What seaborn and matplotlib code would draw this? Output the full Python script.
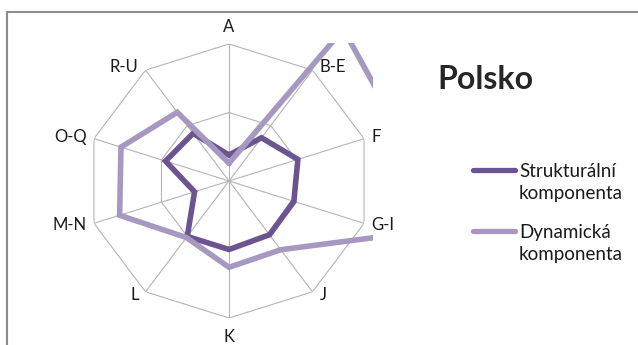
import numpy as np
import seaborn as sns
import matplotlib.pyplot as plt
from matplotlib.patches import Rectangle
from matplotlib.lines import Line2D

categories = ["A", "B-E", "F", "G-I", "J", "K", "L", "M-N", "O-Q", "R-U"]
strukturalni = [0.19, 0.39, 0.51, 0.48, 0.485, 0.50, 0.50, 0.255, 0.47, 0.43]
dynamicka = [0.13, 1.37, 1.25, 1.26, 0.62, 0.63, 0.51, 0.81, 0.80, 0.62]
rings = [0.5, 1.0]

title = "Polsko"
series_labels = ["Strukturální\nkomponenta", "Dynamická\nkomponenta"]
colors = ["#6b5490", "#a698c0"]

sns.set_style("white")
plt.rcParams["font.family"] = ["Lato", "DejaVu Sans"]

W, H = 638, 345
fig = plt.figure(figsize=(W / 100, H / 100), dpi=100)

# chart frame (cropped on the right and bottom)
fig.add_artist(Rectangle((7 / W, -0.2), 2.0, (H - 12) / H + 0.2, transform=fig.transFigure,
                         fill=False, edgecolor="#8c8c8c", linewidth=1.5))

cx, cy, rx, ry = 229, 181, 142, 137
ax = fig.add_axes([(cx - rx) / W, (H - cy - ry) / H, 2 * rx / W, 2 * ry / H], projection="polar")
ax.set_aspect("auto")
ax.set_theta_zero_location("N")
ax.set_theta_direction(-1)
ax.set_ylim(0, 1.0)
ax.grid(False)
ax.set_xticks([])
ax.set_yticks([])
ax.spines["polar"].set_visible(False)
ax.patch.set_alpha(0)

n = len(categories)
theta = np.linspace(0, 2 * np.pi, n, endpoint=False)
closed = np.append(theta, theta[0])

for r in rings:
    ax.plot(closed, [r] * (n + 1), color="#b4b4b4", lw=0.8, zorder=1)
for t in theta:
    ax.plot([t, t], [0, rings[-1]], color="#b4b4b4", lw=0.8, zorder=1)

# plot area is a rectangle: lines beyond the outer ring get clipped there
plot_area = Rectangle((85 / W, 26 / H), 288 / W, 276 / H, transform=fig.transFigure)

for vals, col in zip([strukturalni, dynamicka], colors):
    line, = ax.plot(closed, vals + vals[:1], color=col, lw=4.0, solid_joinstyle="miter", zorder=3)
    line.set_clip_path(plot_area)

for t, lab in zip(theta, categories):
    s, c = np.sin(t), np.cos(t)
    if abs(s) < 0.1:
        ha = "center"
        off = (0, 17 if c > 0 else -19)
    else:
        ha = "left" if s > 0 else "right"
        off = (7 * np.sign(s), 4 * c)
    ax.annotate(lab, xy=(t, 1.0), xytext=off, textcoords="offset pixels",
                ha=ha, va="center", fontsize=12, color="#1a1a1a", annotation_clip=False)

fig.text(437 / W, (H - 89) / H, title, fontsize=23, fontweight="bold", va="baseline", ha="left")

# legend: handle aligned with the first text line
for i, (lab, col) in enumerate(zip(series_labels, colors)):
    yl = 170 + 60.5 * i
    fig.add_artist(Line2D([473 / W, 515 / W], [(H - yl) / H] * 2, transform=fig.transFigure,
                          color=col, lw=3.8, solid_capstyle="round"))
    fig.text(519 / W, (H - yl - 29.5) / H, lab, fontsize=13.5, va="baseline", ha="left",
             linespacing=1.38, color="#1a1a1a")

fig.savefig("out.png", dpi=100)
